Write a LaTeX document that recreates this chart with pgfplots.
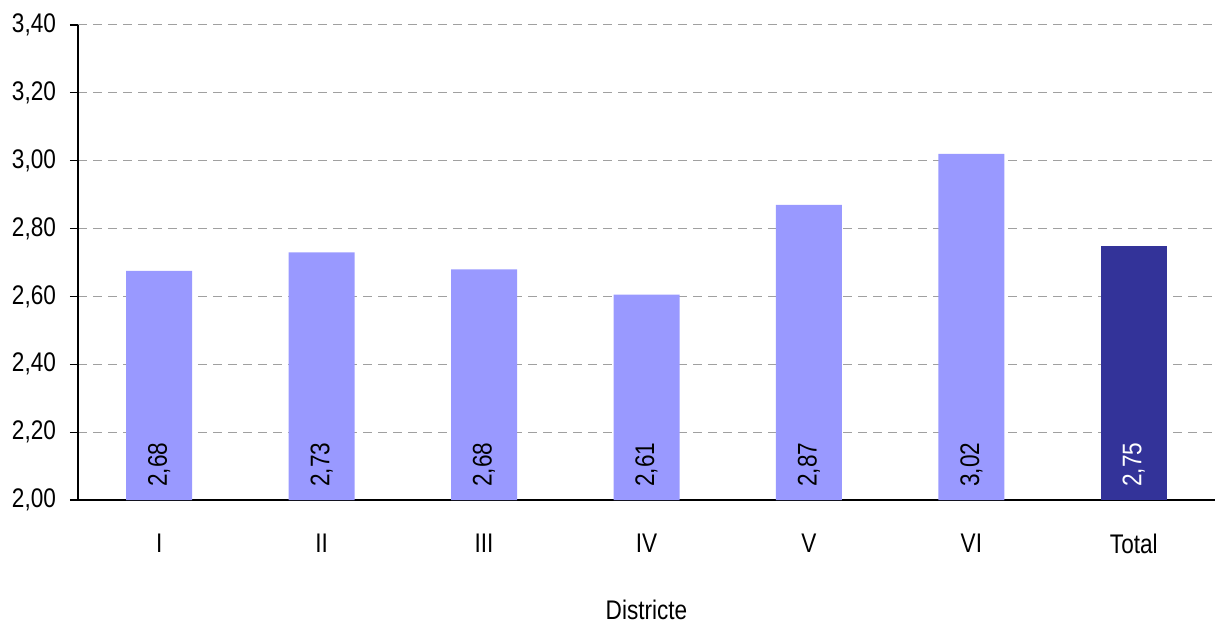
\documentclass[border=0pt]{standalone}
\usepackage{pgfplots}
\pgfplotsset{compat=1.18}
\usepackage{fontspec}
\setmainfont[FakeStretch=0.84]{Liberation Sans}
\definecolor{barlight}{HTML}{9999FF}
\definecolor{bardark}{HTML}{333399}
\definecolor{gridgray}{HTML}{A0A0A0}
\begin{document}
\begin{tikzpicture}
\begin{axis}[
  scale only axis,
  width=568.5bp, height=237.5bp,
  xmin=-0.5, xmax=6.5,
  ymin=2, ymax=3.4,
  ytick={2,2.2,2.4,2.6,2.8,3.0,3.2,3.4},
  xtick={0,1,2,3,4,5,6},
  xticklabels={I,II,III,IV,V,VI,Total},
  axis lines=left,
  axis line style={-, black, line width=0.8pt},
  tick align=outside,
  major tick length=4bp,
  xtick style={draw=none},
  ytick style={black, line width=0.6pt},
  ymajorgrids,
  major grid style={gridgray, dash pattern=on 4.5bp off 3bp, line width=0.5pt},
  font=\fontsize{13.5}{15}\selectfont,
  yticklabel style={xshift=-3.5bp, /pgf/number format/use comma, /pgf/number format/fixed, /pgf/number format/fixed zerofill, /pgf/number format/precision=2, /pgf/number format/assume math mode=true},
  xticklabel style={yshift=-9.5bp},
  xlabel={Districte},
  every axis x label/.style={at={(axis description cs:0.5,0)}, anchor=north, inner sep=2pt, yshift=-48bp},
  clip=false,
]
\coordinate (bl) at (rel axis cs:0,0);
\addplot[ybar, bar width=33bp, fill=barlight, draw=none] coordinates {
  (0,2.675) (1,2.73) (2,2.68) (3,2.605) (4,2.87) (5,3.02)
};
\addplot[ybar, bar width=33bp, fill=bardark, draw=none] coordinates {
  (6,2.75)
};
\addplot[draw=none, mark=none, point meta=explicit,
  nodes near coords={\pgfmathprintnumber[use comma, fixed, fixed zerofill, precision=2, assume math mode=true]{\pgfplotspointmeta}},
  every node near coord/.append style={rotate=90, anchor=west, inner sep=0pt, inner xsep=6.5bp, text=black, font=\fontsize{13.5}{15}\selectfont}]
  coordinates {
  (0,2) [2.68] (1,2) [2.73] (2,2) [2.68] (3,2) [2.61] (4,2) [2.87] (5,2) [3.02]
};
\addplot[draw=none, mark=none, point meta=explicit,
  nodes near coords={\pgfmathprintnumber[use comma, fixed, fixed zerofill, precision=2, assume math mode=true]{\pgfplotspointmeta}},
  every node near coord/.append style={rotate=90, anchor=west, inner sep=0pt, inner xsep=6.5bp, text=white, font=\fontsize{13.5}{15}\selectfont}]
  coordinates {
  (6,2) [2.75]
};
\end{axis}
\pgfresetboundingbox
\path (bl) ++(-39bp,-63.5bp) rectangle ++(607.5bp,313.5bp);
\end{tikzpicture}
\end{document}
